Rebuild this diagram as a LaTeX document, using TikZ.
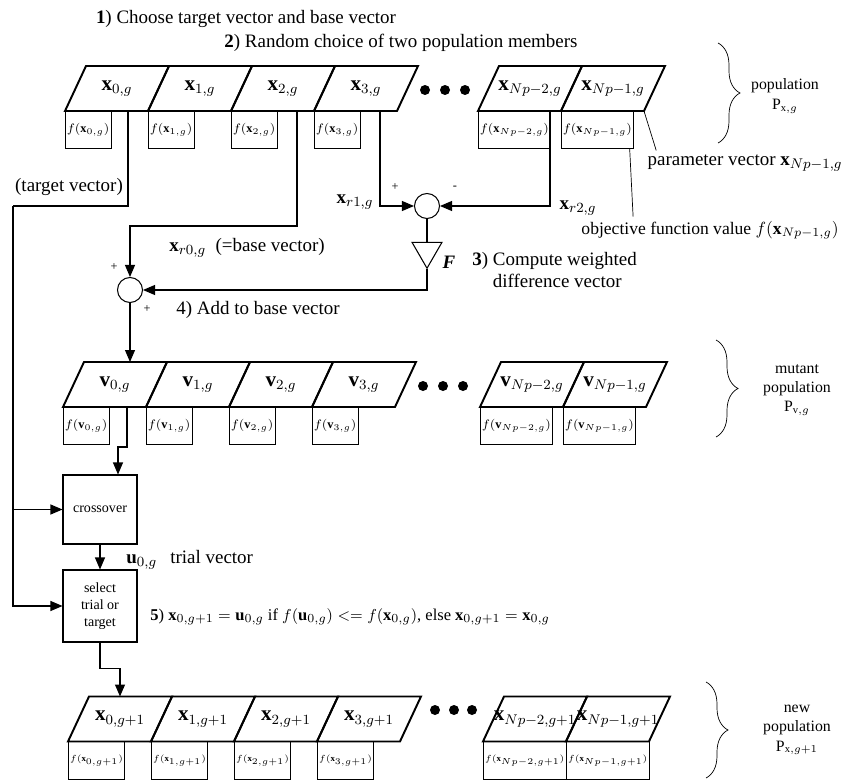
\documentclass[tikz,border=0pt]{standalone}
\usepackage{fontspec}
\setmainfont{Liberation Serif}
\usepackage{tikz}
\usetikzlibrary{arrows.meta,positioning,shapes.geometric,calc,decorations.pathreplacing}
\newcommand{\cellv}[1]{\makebox[0pt]{$#1$}}

\begin{document}
\begin{tikzpicture}[x=0.02cm,y=-0.02cm,
  font=\fontsize{10.8}{13}\selectfont, >={Triangle[length=2.4mm,width=2mm]}, semithick,
  cell/.style={minimum width=1.66cm, minimum height=0.9cm, inner sep=0pt, outer sep=0pt, font=\large},
  cellline/.style={line width=1.1pt, line join=miter},
  fbox/.style={draw, thin, minimum width=0.88cm, minimum height=0.75cm, inner sep=1pt, outer sep=0pt, anchor=north west, font=\scriptsize},
  fwide/.style={fbox, minimum width=1.16cm},
  sum/.style={draw, circle, minimum size=0.5cm, inner sep=0pt},
  gain/.style={draw, regular polygon, regular polygon sides=3, shape border rotate=180, minimum size=0.69cm, inner sep=0pt},
  opbox/.style={draw, minimum width=1.48cm, align=center, font=\footnotesize, inner sep=1pt},
  sgn/.style={font=\scriptsize, inner sep=1pt},
  dot/.style={fill, circle, minimum size=0.2cm, inner sep=0pt},
  pbrace/.style={decorate, decoration={brace, amplitude=0.44cm}, thin},
]
\useasboundingbox (0,0) rectangle (846,781);

\node (step1) at (246,19) {\textbf{1}) Choose target vector and base vector};
\node (step2) at (401,43) {\textbf{2}) Random choice of two population members};

% population x_g
\node[cell] (pop0) at (117,88.5) {\cellv{\mathbf{x}_{0,g}}};
\node[cell] (pop1) at (200,88.5) {\cellv{\mathbf{x}_{1,g}}};
\node[cell] (pop2) at (283,88.5) {\cellv{\mathbf{x}_{2,g}}};
\node[cell] (pop3) at (366,88.5) {\cellv{\mathbf{x}_{3,g}}};
\node[dot] (dotp1) at (425,90) {};
\node[dot] (dotp2) at (445,90) {};
\node[dot] (dotp3) at (465,90) {};
\node[cell] (popA) at (530,88.5) {\cellv{\mathbf{x}_{Np-2,g}}};
\node[cell] (popB) at (613,88.5) {\cellv{\mathbf{x}_{Np-1,g}}};

% mutant population v_g
\node[cell] (mut0) at (115,384.5) {\cellv{\mathbf{v}_{0,g}}};
\node[cell] (mut1) at (198,384.5) {\cellv{\mathbf{v}_{1,g}}};
\node[cell] (mut2) at (281,384.5) {\cellv{\mathbf{v}_{2,g}}};
\node[cell] (mut3) at (364,384.5) {\cellv{\mathbf{v}_{3,g}}};
\node[dot] (dotm1) at (423,386) {};
\node[dot] (dotm2) at (443,386) {};
\node[dot] (dotm3) at (463,386) {};
\node[cell] (mutA) at (532,384.5) {\cellv{\mathbf{v}_{Np-2,g}}};
\node[cell] (mutB) at (615,384.5) {\cellv{\mathbf{v}_{Np-1,g}}};

% new population x_{g+1}
\node[cell] (new0) at (120,719) {\cellv{\mathbf{x}_{0,g+1}}};
\node[cell] (new1) at (203,719) {\cellv{\mathbf{x}_{1,g+1}}};
\node[cell] (new2) at (286,719) {\cellv{\mathbf{x}_{2,g+1}}};
\node[cell] (new3) at (369,719) {\cellv{\mathbf{x}_{3,g+1}}};
\node[dot] (dotn1) at (435,710) {};
\node[dot] (dotn2) at (454,710) {};
\node[dot] (dotn3) at (472,710) {};
\node[cell] (newA) at (535,719) {\cellv{\mathbf{x}_{Np-2,g+1}}};
\node[cell] (newB) at (618,719) {\cellv{\mathbf{x}_{Np-1,g+1}}};

% slanted outlines of the vector cells
\foreach \c in {pop0,pop1,pop2,pop3,popA,popB,mut0,mut1,mut2,mut3,mutA,mutB,new0,new1,new2,new3,newA,newB}
  \draw[cellline] ($(\c.south west)+(-10.5,0)$) -- ($(\c.south east)+(-10.5,0)$) -- ($(\c.north east)+(10.5,0)$) -- ($(\c.north west)+(10.5,0)$) -- cycle;

% objective function values
\node[fbox] (fpop0) at ($(pop0.south west)+(-10.5,0)$) {$f(\mathbf{x}_{0,g})$};
\node[fbox] (fpop1) at ($(pop1.south west)+(-10.5,0)$) {$f(\mathbf{x}_{1,g})$};
\node[fbox] (fpop2) at ($(pop2.south west)+(-10.5,0)$) {$f(\mathbf{x}_{2,g})$};
\node[fbox] (fpop3) at ($(pop3.south west)+(-10.5,0)$) {$f(\mathbf{x}_{3,g})$};
\node[fwide] (fpopA) at ($(popA.south west)+(-10.5,0)$) {$f(\mathbf{x}_{Np-2,g})$};
\node[fwide] (fpopB) at ($(popB.south west)+(-10.5,0)$) {$f(\mathbf{x}_{Np-1,g})$};
\node[fbox] (fmut0) at ($(mut0.south west)+(-10.5,0)$) {$f(\mathbf{v}_{0,g})$};
\node[fbox] (fmut1) at ($(mut1.south west)+(-10.5,0)$) {$f(\mathbf{v}_{1,g})$};
\node[fbox] (fmut2) at ($(mut2.south west)+(-10.5,0)$) {$f(\mathbf{v}_{2,g})$};
\node[fbox] (fmut3) at ($(mut3.south west)+(-10.5,0)$) {$f(\mathbf{v}_{3,g})$};
\node[fwide] (fmutA) at ($(mutA.south west)+(-10.5,0)$) {$f(\mathbf{v}_{Np-2,g})$};
\node[fwide] (fmutB) at ($(mutB.south west)+(-10.5,0)$) {$f(\mathbf{v}_{Np-1,g})$};
\node[fbox, minimum width=0.98cm, font=\tiny] (fnew0) at ($(new0.south west)+(-10.5,0)$) {$f(\mathbf{x}_{0,g+1})$};
\node[fbox, minimum width=0.98cm, font=\tiny] (fnew1) at ($(new1.south west)+(-10.5,0)$) {$f(\mathbf{x}_{1,g+1})$};
\node[fbox, minimum width=0.98cm, font=\tiny] (fnew2) at ($(new2.south west)+(-10.5,0)$) {$f(\mathbf{x}_{2,g+1})$};
\node[fbox, minimum width=0.98cm, font=\tiny] (fnew3) at ($(new3.south west)+(-10.5,0)$) {$f(\mathbf{x}_{3,g+1})$};
\node[fbox, minimum width=1.3cm, font=\tiny] (fnewA) at ($(newA.south west)+(-10.5,0)$) {$f(\mathbf{x}_{Np-2,g+1})$};
\node[fbox, minimum width=1.3cm, font=\tiny] (fnewB) at ($(newB.south west)+(-10.5,0)$) {$f(\mathbf{x}_{Np-1,g+1})$};

% population labels
\draw[pbrace] (718,43) -- (718,143);
\node[align=center, font=\small] (poplab) at (785,96) {population\\$\mathrm{P}_{\mathrm{x},g}$};
\draw[pbrace] (716,340) -- (716,437);
\node[align=center, font=\small] (mutlab) at (797,390) {mutant\\population\\$\mathrm{P}_{\mathrm{v},g}$};
\draw[pbrace] (706,682) -- (706,778);
\node[align=center, font=\small] (newlab) at (797,730) {new\\population\\$\mathrm{P}_{\mathrm{x},g+1}$};
\node (parlab) at (745,163) {parameter vector $\mathbf{x}_{Np-1,g}$};
\node[anchor=east, font=\normalsize] (objlab) at (845,230) {objective function value $f(\mathbf{x}_{Np-1,g})$};
\draw[thin] ($(popB.south east)+(-10.5,0)$) -- ($(parlab.north west)+(15,2)$);
\draw[thin] ($(fpopB.south east)+(-4,0)$) -- ($(objlab.north west)+(58,2)$);

% mutation
\node[sum] (s1) at (427,206) {};
\node[gain] (amp) at (427,251) {};
\node (flab) at (449,262) {\textbf{\textit{F}}};
\node[sum] (s2) at (130,290) {};
\node[sgn] (p1) at (395,187) {+};
\node[sgn] (m1) at (455,188) {-};
\node[sgn] (p2) at (114,267) {+};
\node[sgn] (p3) at (147,309) {+};
\node (r1lab) at (355,202) {$\mathbf{x}_{r1,g}$};
\node (r2lab) at (578,208) {$\mathbf{x}_{r2,g}$};
\node (baselab) at (247,248) {$\mathbf{x}_{r0,g}$\ \ (=base vector)};
\node (tgtlab) at (69,187) {(target vector)};
\node[align=left, anchor=west] (step3) at (466,272) {\textbf{3}) Compute weighted\\\phantom{\textbf{3}) }difference vector};
\node (step4) at (258,310) {4) Add to base vector};
\coordinate (rail) at (13,206);

\draw[->] ($(pop3.south west)+(55.5,0)$) |- (s1.west);
\draw[->] ($(popA.south west)+(61.5,0)$) |- (s1.east);
\draw (s1) -- (amp);
\draw[->] (amp.south) |- (s2.east);
\draw[->] ($(pop2.south west)+(55.5,0)$) -- ++(0,115) -| (s2.north);
\draw ($(pop0.south west)+(52.5,0)$) |- (rail);
\draw[->] (s2) -- (s2 |- mut0.north);

% crossover and selection
\node[opbox, minimum height=1.38cm] (cross) at (100,509.5) {crossover};
\node[opbox, minimum height=1.44cm] (sel) at (100,606) {select\\trial or\\target};
\node[anchor=west] (ulab) at (120,560) {$\mathbf{u}_{0,g}$\hspace{0.7em}trial vector};
\node[anchor=west, font=\fontsize{9.4}{11}\selectfont] (step5) at (144,617) {\textbf{5}) $\mathbf{x}_{0,g+1}=\mathbf{u}_{0,g}$ if $f(\mathbf{u}_{0,g}) <= f(\mathbf{x}_{0,g})$, else $\mathbf{x}_{0,g+1}=\mathbf{x}_{0,g}$};
\draw[->] ($(mut0.south west)+(53.5,0)$) -- ++(0,40) -| ($(cross.north)+(18,0)$);
\draw[->] (rail) |- (cross.west);
\draw[->] (rail) |- (sel.west);
\draw[->] (cross) -- (sel);
\draw[->] (sel.south) -- ++(0,26) -| (new0.north);
\end{tikzpicture}
\end{document}
